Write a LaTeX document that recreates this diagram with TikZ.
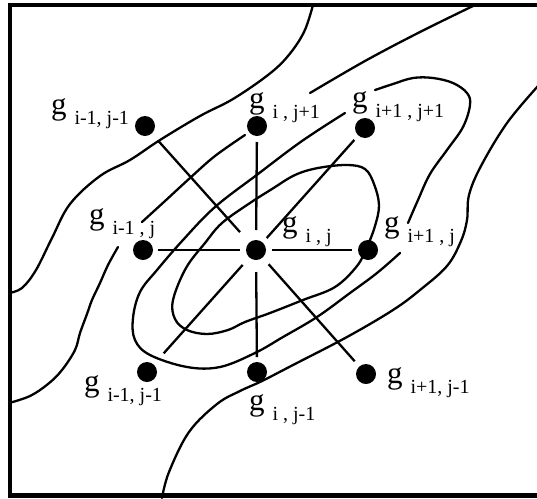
\documentclass[tikz,border=0pt]{standalone}
\usepackage{fontspec}
\setmainfont{Liberation Serif}
\newcommand{\glab}[1]{{\fontsize{31}{31}\selectfont g}\hspace{8pt}\raisebox{-10pt}{\fontsize{20}{20}\selectfont #1}}
\begin{document}
\begin{tikzpicture}[x=1pt,y=-1pt,
  contour/.style={line width=2.3pt, line cap=round, line join=round},
  dot/.style={circle, fill=black, minimum size=20pt, inner sep=0pt, outer sep=0pt},
  spoke/.style={line width=2.3pt},
  lab/.style={anchor=base west, inner sep=0pt, outer sep=0pt},
  frame/.style={line width=4.5pt}]
\useasboundingbox (0,0) rectangle (537,498);
\fill[white] (0,0) rectangle (537,498);
% frame
\draw[frame] (537,5) -- (10,5) -- (10,495.5) -- (537,495.5);

% contours
\draw[contour] plot[smooth, tension=0.6] coordinates {(313,5) (304,32) (288,56) (268,75) (233,99) (200,116) (160,140) (130,160) (100,176) (70,204) (52,238) (36,270) (22,288) (9,293)};
\draw[contour] plot[smooth, tension=0.6] coordinates {(473,6) (420,32) (365,61) (310,93)};
\draw[contour] plot[smooth, tension=0.6] coordinates {(245,135) (215,156) (190,178) (165,201) (142,222)};
\draw[contour] plot[smooth, tension=0.6] coordinates {(118,247) (108,265) (100,283) (92,300) (87,314) (80,333) (75,350) (62,370) (48,384) (30,396) (9,403)};
\draw[contour] plot[smooth, tension=0.6] coordinates {(375,90) (393,84) (413,78) (433,78) (453,83) (467,93) (470,105) (463,127) (447,150) (430,174) (418,200) (408,223)};
\draw[contour] plot[smooth, tension=0.6] coordinates {(400,253) (377,273) (350,293) (317,317) (283,337) (255,353) (220,367) (187,367) (150,355) (135,340) (133,318) (140,292) (157,270) (183,240) (215,207) (258,174) (302,141) (345,113)};
\draw[contour] plot[smooth cycle, tension=0.6] coordinates {(347,165) (365,169) (374,184) (379,205) (375,226) (367,247) (357,266) (335,287) (303,300) (270,313) (245,322) (228,330) (207,334) (187,330) (175,319) (173,300) (186,268) (205,243) (222,223) (250,203) (272,189) (295,175) (318,168)};
\draw[contour] plot[smooth, tension=0.6] coordinates {(538,86) (507,123) (481,166) (469,195) (467,220) (461,241) (447,266) (420,290) (393,310) (347,337) (293,365) (262,381) (240,391) (217,404) (189,432) (169,472) (162,498)};

% dots
\node[dot] (A) at (145,126) {};
\node[dot] (B) at (257,126) {};
\node[dot] (C) at (365,128) {};
\node[dot] (D) at (143,250) {};
\node[dot] (E) at (256,250) {};
\node[dot] (F) at (368,250) {};
\node[dot] (G) at (147,372) {};
\node[dot] (H) at (257,372) {};
\node[dot] (I) at (366,374) {};

% spokes
\draw[spoke, shorten <=14pt, shorten >=10pt] (E) -- (A);
\draw[spoke, shorten <=10pt, shorten >=6pt] (E) -- (B);
\draw[spoke, shorten <=6pt, shorten >=6pt] (E) -- (C);
\draw[spoke, shorten <=6pt, shorten >=5pt] (E) -- (D);
\draw[spoke, shorten <=6pt, shorten >=6pt] (E) -- (F);
\draw[spoke, shorten <=10pt, shorten >=15pt] (E) -- (G);
\draw[spoke, shorten <=12pt, shorten >=5pt] (E) -- (H);
\draw[spoke, shorten <=9pt, shorten >=7pt] (E) -- (I);

% labels
\node[lab] (lA) at (51,114) {\glab{i-1, j-1}};
\node[lab] (lB) at (249,108) {\glab{i , j+1}};
\node[lab] (lC) at (352,107) {\glab{i+1 , j+1}};
\node[lab] (lD) at (89,224) {\glab{i-1 , j}};
\node[lab] (lE) at (282,232) {\glab{i , j}};
\node[lab] (lF) at (384,232) {\glab{i+1 , j}};
\node[lab] (lG) at (84,391) {\glab{i-1, j-1}};
\node[lab] (lH) at (249,410) {\glab{i , j-1}};
\node[lab] (lI) at (387,383) {\glab{i+1, j-1}};
\end{tikzpicture}
\end{document}
